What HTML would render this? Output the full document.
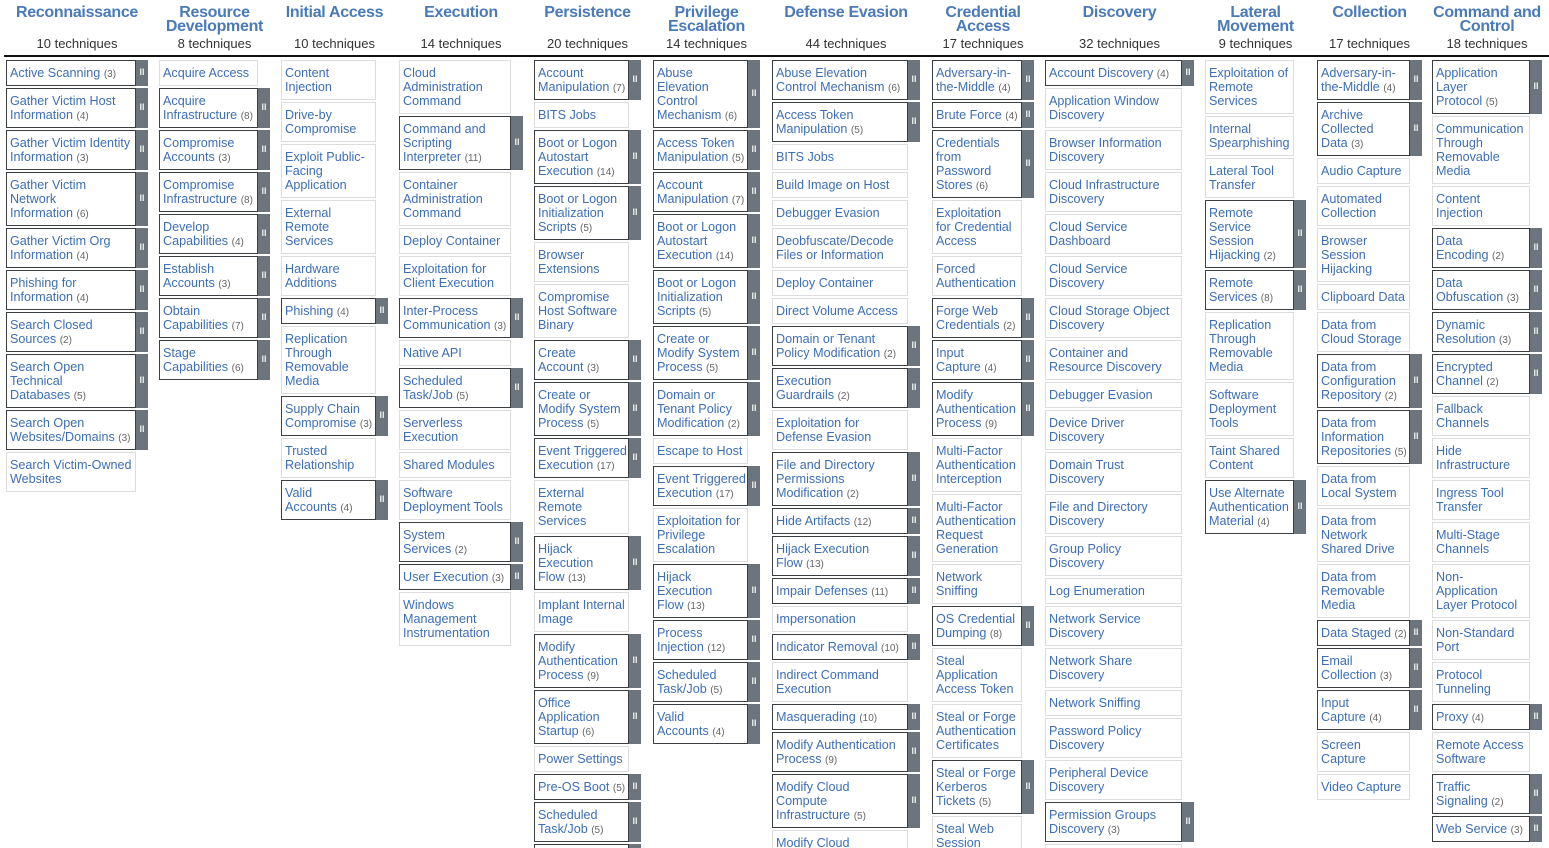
<!DOCTYPE html>
<html><head><meta charset="utf-8">
<style>
html,body{margin:0;padding:0;background:#fff;width:1549px;height:848px;overflow:hidden;position:relative;font-family:"Liberation Sans",sans-serif}
.hd{position:absolute;top:6px;text-align:center;color:#4a7ab8;font-weight:bold;font-size:16px;line-height:14px;letter-spacing:-0.3px}
.cnt{position:absolute;top:36px;text-align:center;color:#333;font-size:13px}
.rule{position:absolute;left:4px;top:55px;width:1545px;height:2px;background:#111}
.cell{position:absolute;box-sizing:border-box;border:1px solid #ddd;color:#3d6fb3;font-size:12.6px;line-height:14px;padding:5px 0 0 3px;white-space:nowrap;overflow:hidden}
.cell.sub{border:1px solid #3a3f44}
.cell small{font-size:10px;color:#666}
.side{position:absolute;box-sizing:border-box;width:12px;background:#6c757d;color:#eee;font-size:9px;font-weight:bold;text-align:center}
</style></head><body>
<div class="rule"></div>
<script>
const tactics=["Reconnaissance","Resource|Development","Initial Access","Execution","Persistence","Privilege|Escalation","Defense Evasion","Credential|Access","Discovery","Lateral|Movement","Collection","Command and|Control"];
const techCounts=[10,8,10,14,20,14,44,17,32,9,17,18];
const colX=[6,159,281,399,534,653,772,932,1045,1205,1317,1432];
const colW=[130,99,95,112,95,95,136,90,137,89,93,98];
const colRecon=["Active Scanning~3","Gather Victim Host|Information~4","Gather Victim Identity|Information~3","Gather Victim|Network|Information~6","Gather Victim Org|Information~4","Phishing for|Information~4","Search Closed|Sources~2","Search Open|Technical|Databases~5","Search Open|Websites/Domains~3","Search Victim-Owned|Websites"];
const colResource=["Acquire Access","Acquire|Infrastructure~8","Compromise|Accounts~3","Compromise|Infrastructure~8","Develop|Capabilities~4","Establish|Accounts~3","Obtain|Capabilities~7","Stage|Capabilities~6"];
const colInitial=["Content|Injection","Drive-by|Compromise","Exploit Public-|Facing|Application","External|Remote|Services","Hardware|Additions","Phishing~4","Replication|Through|Removable|Media","Supply Chain|Compromise~3","Trusted|Relationship","Valid|Accounts~4"];
const colExecution=["Cloud|Administration|Command","Command and|Scripting|Interpreter~11","Container|Administration|Command","Deploy Container","Exploitation for|Client Execution","Inter-Process|Communication~3","Native API","Scheduled|Task/Job~5","Serverless|Execution","Shared Modules","Software|Deployment Tools","System|Services~2","User Execution~3","Windows|Management|Instrumentation"];
const colPersistence=["Account|Manipulation~7","BITS Jobs","Boot or Logon|Autostart|Execution~14","Boot or Logon|Initialization|Scripts~5","Browser|Extensions","Compromise|Host Software|Binary","Create|Account~3","Create or|Modify System|Process~5","Event Triggered|Execution~17","External|Remote|Services","Hijack|Execution|Flow~13","Implant Internal|Image","Modify|Authentication|Process~9","Office|Application|Startup~6","Power Settings","Pre-OS Boot~5","Scheduled|Task/Job~5","Server Software|Component~5"];
const colPrivEsc=["Abuse|Elevation|Control|Mechanism~6","Access Token|Manipulation~5","Account|Manipulation~7","Boot or Logon|Autostart|Execution~14","Boot or Logon|Initialization|Scripts~5","Create or|Modify System|Process~5","Domain or|Tenant Policy|Modification~2","Escape to Host","Event Triggered|Execution~17","Exploitation for|Privilege|Escalation","Hijack|Execution|Flow~13","Process|Injection~12","Scheduled|Task/Job~5","Valid|Accounts~4"];
const colDefense=["Abuse Elevation|Control Mechanism~6","Access Token|Manipulation~5","BITS Jobs","Build Image on Host","Debugger Evasion","Deobfuscate/Decode|Files or Information","Deploy Container","Direct Volume Access","Domain or Tenant|Policy Modification~2","Execution|Guardrails~2","Exploitation for|Defense Evasion","File and Directory|Permissions|Modification~2","Hide Artifacts~12","Hijack Execution|Flow~13","Impair Defenses~11","Impersonation","Indicator Removal~10","Indirect Command|Execution","Masquerading~10","Modify Authentication|Process~9","Modify Cloud|Compute|Infrastructure~5","Modify Cloud|Resource Hierarchy"];
const colCredential=["Adversary-in-|the-Middle~4","Brute Force~4","Credentials|from|Password|Stores~6","Exploitation|for Credential|Access","Forced|Authentication","Forge Web|Credentials~2","Input|Capture~4","Modify|Authentication|Process~9","Multi-Factor|Authentication|Interception","Multi-Factor|Authentication|Request|Generation","Network|Sniffing","OS Credential|Dumping~8","Steal|Application|Access Token","Steal or Forge|Authentication|Certificates","Steal or Forge|Kerberos|Tickets~5","Steal Web|Session|Cookie"];
const colDiscovery=["Account Discovery~4","Application Window|Discovery","Browser Information|Discovery","Cloud Infrastructure|Discovery","Cloud Service|Dashboard","Cloud Service|Discovery","Cloud Storage Object|Discovery","Container and|Resource Discovery","Debugger Evasion","Device Driver|Discovery","Domain Trust|Discovery","File and Directory|Discovery","Group Policy|Discovery","Log Enumeration","Network Service|Discovery","Network Share|Discovery","Network Sniffing","Password Policy|Discovery","Peripheral Device|Discovery","Permission Groups|Discovery~3","Process Discovery"];
const colLateral=["Exploitation of|Remote|Services","Internal|Spearphishing","Lateral Tool|Transfer","Remote|Service|Session|Hijacking~2","Remote|Services~8","Replication|Through|Removable|Media","Software|Deployment|Tools","Taint Shared|Content","Use Alternate|Authentication|Material~4"];
const colCollection=["Adversary-in-|the-Middle~4","Archive|Collected|Data~3","Audio Capture","Automated|Collection","Browser|Session|Hijacking","Clipboard Data","Data from|Cloud Storage","Data from|Configuration|Repository~2","Data from|Information|Repositories~5","Data from|Local System","Data from|Network|Shared Drive","Data from|Removable|Media","Data Staged~2","Email|Collection~3","Input|Capture~4","Screen|Capture","Video Capture"];
const colC2=["Application|Layer|Protocol~5","Communication|Through|Removable|Media","Content|Injection","Data|Encoding~2","Data|Obfuscation~3","Dynamic|Resolution~3","Encrypted|Channel~2","Fallback|Channels","Hide|Infrastructure","Ingress Tool|Transfer","Multi-Stage|Channels","Non-|Application|Layer Protocol","Non-Standard|Port","Protocol|Tunneling","Proxy~4","Remote Access|Software","Traffic|Signaling~2","Web Service~3"];
const columns=[colRecon,colResource,colInitial,colExecution,colPersistence,colPrivEsc,colDefense,colCredential,colDiscovery,colLateral,colCollection,colC2];

function slug(s){return s.replace(/\|/g,' ').toLowerCase().replace(/[^a-z0-9]+/g,'-').replace(/^-|-$/g,'');}
const body=document.body;
tactics.forEach(function(t,i){
  const cx=colX[i], full=colW[i]+12;
  const h=document.createElement('div');
  h.className='hd';
  h.style.left=(cx-10)+'px';h.style.width=(full+20)+'px';
  const parts=t.split('|');
  h.innerHTML=parts.join('<br>');
  if(parts.length===1)h.style.top='6px';
  
  
  body.appendChild(h);
  const c=document.createElement('div');
  c.className='cnt';
  c.style.left=(cx-10)+'px';c.style.width=(full+20)+'px';
  c.textContent=techCounts[i]+' techniques';
  
  
  body.appendChild(c);
  let y=59;
  columns[i].forEach(function(entry){
    const sp=entry.split('~');
    const lines=sp[0].split('|');
    const sub=sp.length>1?sp[1]:null;
    const hgt=lines.length*14+14;
    const cell=document.createElement('div');
    cell.className='cell'+(sub?' sub':'');
    cell.style.left=cx+'px';cell.style.top=(y+1)+'px';
    cell.style.width=colW[i]+'px';cell.style.height=(hgt-2)+'px';
    let html=lines.join('<br>');
    if(sub)html+=' <small>('+sub+')</small>';
    cell.innerHTML=html;
    
    
    body.appendChild(cell);
    if(sub){
      const s=document.createElement('div');
      s.className='side';
      s.style.left=(cx+colW[i])+'px';s.style.top=(y+1)+'px';s.style.height=(hgt-2)+'px';
      s.style.paddingTop=((hgt-2)/2-6)+'px';
      s.textContent='II';
      
      
      body.appendChild(s);
    }
    y+=hgt;
  });
});
</script>
</body></html>
